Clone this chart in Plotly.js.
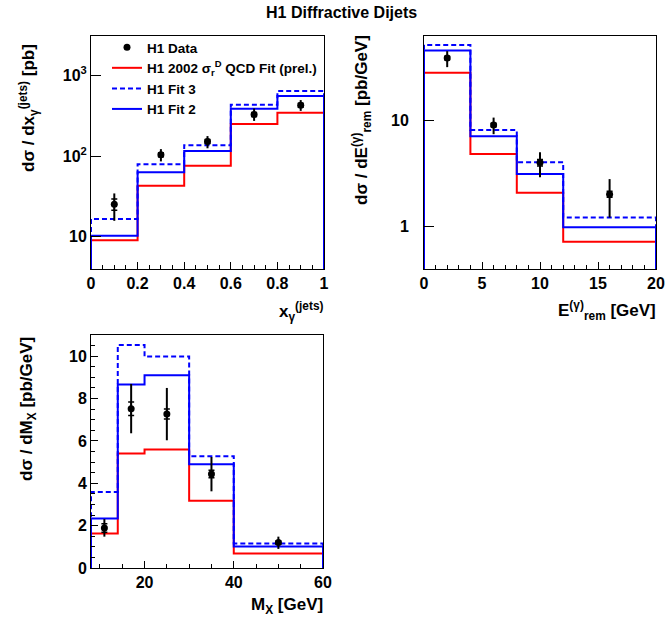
<!DOCTYPE html>
<html>
<head>
<meta charset="utf-8">
<script src="https://cdn.plot.ly/plotly-3.0.1.min.js"></script>
<style>html,body{margin:0;padding:0;background:#fff;}#chart{width:665px;height:626px;}</style>
</head>
<body>
<div id="chart"></div>
<script>
// ---------- Panel 1: d sigma / d x_gamma ----------
const xgEdges = [0, 0.2, 0.4, 0.6, 0.8, 1.0];
const xgFitRed = [9.1, 43, 76, 250, 344];
const xgFit2 = [10.3, 63, 116, 385, 553];
const xgFit3 = [16.7, 79, 136, 432, 638];
const xgX = [0.1, 0.3, 0.5, 0.7, 0.9];
const xgY = [25.4, 104, 152, 328, 427];
const xgErrUp = [9.1, 18, 25, 61, 67];
const xgErrDn = [9.6, 18, 27, 55, 64];
const xgStat = [4.0, 6, 9, 19, 25];

// ---------- Panel 2: d sigma / d E_rem ----------
const eEdges = [0, 4, 8, 12, 20];
const eFitRed = [28, 4.83, 2.08, 0.72];
const eFit2 = [45.3, 7.08, 3.12, 0.99];
const eFit3 = [51, 8.1, 4.04, 1.22];
const eX = [2, 6, 10, 16];
const eY = [38.6, 9.04, 4.0, 2.02];
const eErrUp = [6.1, 1.56, 1.0, 0.78];
const eErrDn = [7.0, 1.64, 1.08, 0.8];
const eStat = [1.5, 0.35, 0.28, 0.13];

// ---------- Panel 3: d sigma / d M_X ----------
const mEdges = [8, 14, 20, 30, 40, 60];
const mFitRed = [1.63, 5.41, 5.6, 3.18, 0.69];
const mFit2 = [2.34, 8.66, 9.1, 4.9, 1.02];
const mFit3 = [3.59, 10.53, 9.98, 5.27, 1.16];
const mX = [11, 17, 25, 35, 50];
const mY = [1.89, 7.52, 7.27, 4.44, 1.2];
const mErrUp = [0.42, 1.17, 1.23, 0.8, 0.28];
const mErrDn = [0.41, 1.16, 1.24, 0.82, 0.3];
const mStat = [0.2, 0.32, 0.24, 0.18, 0.08];

// tick labels
const xgTicks = [0, 0.2, 0.4, 0.6, 0.8, 1];
const xgTickText = ['0', '0.2', '0.4', '0.6', '0.8', '1'];
const xgYTicks = [10, 100, 1000];
const xgYTickText = ['10', '10<sup>2</sup>', '10<sup>3</sup>'];
const eYTicks = [1, 10];
const eYTickText = ['1', '10'];
const mXTicks = [20, 40, 60];

const legendNames = ['H1 Data', 'H1 2002 σ<sub>r</sub><sup>D</sup> QCD Fit (prel.)', 'H1 Fit 3', 'H1 Fit 2'];

// ---------- helpers ----------
const W = 665, H = 626;
const px = v => v / W;
const py = v => 1 - v / H;

function stepLine(edges, vals, floor) {
  const x = [edges[0]], y = [floor];
  for (let i = 0; i < vals.length; i++) { x.push(edges[i]); y.push(vals[i]); }
  x.push(edges[edges.length - 1]); y.push(vals[vals.length - 1]);
  x.push(edges[edges.length - 1]); y.push(floor);
  return {x, y};
}

function minorLog(lo, hi) {
  const out = [];
  for (let d = Math.floor(Math.log10(lo)); d <= Math.ceil(Math.log10(hi)); d++) {
    for (let m = 2; m <= 9; m++) {
      const v = m * Math.pow(10, d);
      if (v >= lo && v <= hi) out.push(v);
    }
  }
  return out;
}

const traces = [];
function addPanel(xa, ya, edges, red, fit2, fit3, dx, dy, up, dn, stat, floor, legend) {
  const r = stepLine(edges, red, floor);
  const f3 = stepLine(edges, fit3, floor);
  const f2 = stepLine(edges, fit2, floor);
  traces.push({x: r.x, y: r.y, xaxis: xa, yaxis: ya, mode: 'lines', line: {shape: 'hv', color: '#ff0000', width: 2},
    name: legendNames[1], showlegend: legend, legendrank: 2, hoverinfo: 'skip'});
  traces.push({x: f3.x, y: f3.y, xaxis: xa, yaxis: ya, mode: 'lines', line: {shape: 'hv', color: '#0000ff', width: 2, dash: '5px,3px'},
    name: legendNames[2], showlegend: legend, legendrank: 3, hoverinfo: 'skip'});
  traces.push({x: f2.x, y: f2.y, xaxis: xa, yaxis: ya, mode: 'lines', line: {shape: 'hv', color: '#0000ff', width: 2},
    name: legendNames[3], showlegend: legend, legendrank: 4, hoverinfo: 'skip'});
  // statistical error caps
  traces.push({x: dx, y: dy, xaxis: xa, yaxis: ya, mode: 'markers', marker: {size: 1, color: 'rgba(0,0,0,0)'},
    error_y: {type: 'data', array: stat, arrayminus: stat, color: '#000', thickness: 1.5, width: 3},
    showlegend: false, hoverinfo: 'skip'});
  // data with total errors
  traces.push({x: dx, y: dy, xaxis: xa, yaxis: ya, mode: 'markers', marker: {size: 7, color: '#000', symbol: 'circle'},
    error_y: {type: 'data', symmetric: false, array: up, arrayminus: dn, color: '#000', thickness: 2, width: 0},
    name: legendNames[0], showlegend: legend, legendrank: 1});
}

addPanel('x', 'y', xgEdges, xgFitRed, xgFit2, xgFit3, xgX, xgY, xgErrUp, xgErrDn, xgStat, 1e-3, true);
addPanel('x2', 'y2', eEdges, eFitRed, eFit2, eFit3, eX, eY, eErrUp, eErrDn, eStat, 1e-3, false);
addPanel('x3', 'y3', mEdges, mFitRed, mFit2, mFit3, mX, mY, mErrUp, mErrDn, mStat, -1, false);

const FONT = 'Liberation Sans, Arial, Helvetica, sans-serif';
const tickFont = {family: FONT, size: 16, color: '#000', weight: 'bold'};
const base = {showgrid: false, zeroline: false, showline: true, mirror: true, linecolor: '#000', linewidth: 1,
  ticks: 'inside', tickcolor: '#000', tickwidth: 1, tickfont: tickFont, fixedrange: true};

const y1Range = [Math.log10(4), Math.log10(3070)];
const y2Range = [Math.log10(0.4), Math.log10(62)];

const dom1x = [px(91), px(324)], dom2x = [px(424), px(656)], dom3x = [px(91), px(323)];
const domTop = [py(269), py(36)], domBot = [py(568), py(335)];

const layout = {
  width: W, height: H,
  margin: {l: 0, r: 0, t: 0, b: 0},
  paper_bgcolor: '#fff', plot_bgcolor: '#fff',
  font: {family: FONT, color: '#000', weight: 'bold'},
  showlegend: true,
  legend: {x: px(107), y: py(32), xanchor: 'left', yanchor: 'top', bgcolor: 'rgba(0,0,0,0)',
    font: {family: FONT, size: 13.5, color: '#000', weight: 'bold'}, tracegroupgap: 0, itemwidth: 30},
  xaxis: Object.assign({}, base, {domain: dom1x, anchor: 'y', range: [0, 1], tickvals: xgTicks, ticktext: xgTickText, ticklen: 7,
    minor: {ticks: 'inside', dtick: 0.05, tick0: 0, ticklen: 4, tickcolor: '#000', showgrid: false}}),
  yaxis: Object.assign({}, base, {domain: domTop, anchor: 'x', type: 'log', range: y1Range, tickvals: xgYTicks, ticktext: xgYTickText, ticklen: 10}),
  yaxis4: {overlaying: 'y', anchor: 'x', type: 'log', range: y1Range, tickvals: minorLog(4, 3070), ticks: 'inside', ticklen: 5,
    tickcolor: '#000', showticklabels: false, showline: false, showgrid: false, zeroline: false, fixedrange: true},
  xaxis2: Object.assign({}, base, {domain: dom2x, anchor: 'y2', range: [0, 20], dtick: 5, tick0: 0, ticklen: 7,
    minor: {ticks: 'inside', dtick: 1, tick0: 0, ticklen: 4, tickcolor: '#000', showgrid: false}}),
  yaxis2: Object.assign({}, base, {domain: domTop, anchor: 'x2', type: 'log', range: y2Range, tickvals: eYTicks, ticktext: eYTickText, ticklen: 10,
    ticklabelstandoff: 11}),
  yaxis5: {overlaying: 'y2', anchor: 'x2', type: 'log', range: y2Range, tickvals: minorLog(0.4, 62), ticks: 'inside', ticklen: 5,
    tickcolor: '#000', showticklabels: false, showline: false, showgrid: false, zeroline: false, fixedrange: true},
  xaxis3: Object.assign({}, base, {domain: dom3x, anchor: 'y3', range: [8, 60], tickvals: mXTicks, ticklen: 7,
    minor: {ticks: 'inside', dtick: 5, tick0: 0, ticklen: 4, tickcolor: '#000', showgrid: false}}),
  yaxis3: Object.assign({}, base, {domain: domBot, anchor: 'x3', range: [0, 11], dtick: 2, tick0: 0, ticklen: 7,
    minor: {ticks: 'inside', dtick: 0.5, tick0: 0, ticklen: 4, tickcolor: '#000', showgrid: false}}),
  annotations: [
    {text: '<b>H1 Diffractive Dijets</b>', xref: 'paper', yref: 'paper', x: px(341), y: py(12), xanchor: 'center', yanchor: 'middle',
      showarrow: false, font: {family: FONT, size: 16, color: '#000'}},
    {text: '<b>x<sub>γ</sub><sup>(jets)</sup></b>', xref: 'paper', yref: 'paper', x: px(326), y: py(311), xanchor: 'right', yanchor: 'middle',
      showarrow: false, font: {family: FONT, size: 17, color: '#000'}},
    {text: '<b>dσ / dx<sub>γ</sub><sup>(jets)</sup> [pb]</b>', xref: 'paper', yref: 'paper', x: px(28), y: py(42), xanchor: 'center', yanchor: 'top',
      textangle: -90, showarrow: false, font: {family: FONT, size: 17, color: '#000'}},
    {text: '<b>E<sup>(γ)</sup><sub>rem</sub> [GeV]</b>', xref: 'paper', yref: 'paper', x: px(658), y: py(310), xanchor: 'right', yanchor: 'middle',
      showarrow: false, font: {family: FONT, size: 17, color: '#000'}},
    {text: '<b>dσ / dE<sup>(γ)</sup><sub>rem</sub> [pb/GeV]</b>', xref: 'paper', yref: 'paper', x: px(362), y: py(33), xanchor: 'center', yanchor: 'top',
      textangle: -90, showarrow: false, font: {family: FONT, size: 17, color: '#000'}},
    {text: '<b>dσ / dM<sub>X</sub> [pb/GeV]</b>', xref: 'paper', yref: 'paper', x: px(28), y: py(335), xanchor: 'center', yanchor: 'top',
      textangle: -90, showarrow: false, font: {family: FONT, size: 17, color: '#000'}},
    {text: '<b>M<sub>X</sub> [GeV]</b>', xref: 'paper', yref: 'paper', x: px(325), y: py(606), xanchor: 'right', yanchor: 'middle',
      showarrow: false, font: {family: FONT, size: 17, color: '#000'}}
  ]
};

Plotly.newPlot('chart', traces, layout, {displayModeBar: false, staticPlot: true});
</script>
</body>
</html>
